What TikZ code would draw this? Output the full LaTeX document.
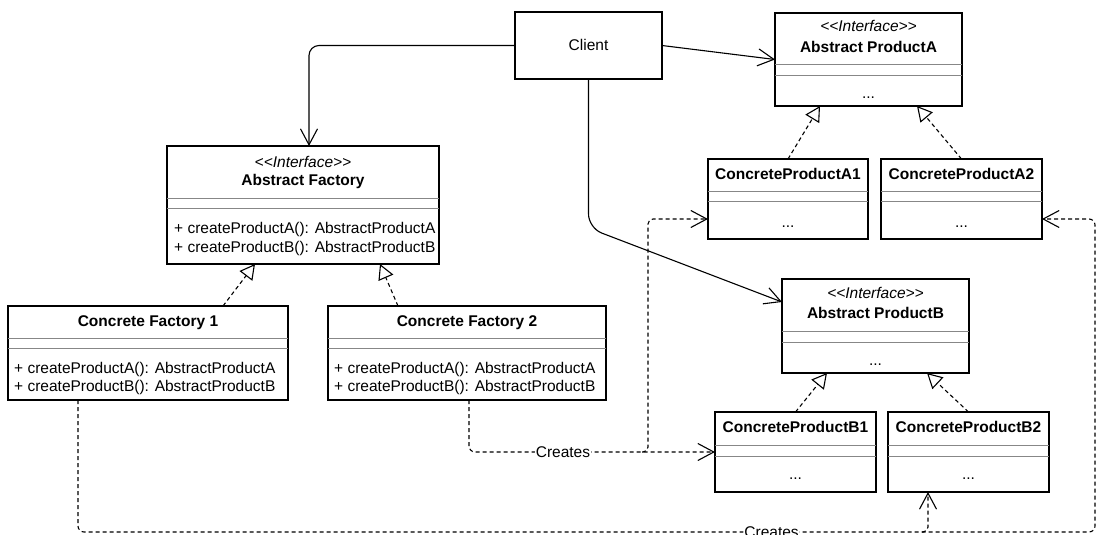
\documentclass[tikz,border=0pt]{standalone}
\usepackage{fontspec}
\setmainfont{Liberation Sans}
\usetikzlibrary{arrows.meta,calc}

\definecolor{sepgray}{RGB}{135,135,135}

\tikzset{
  classbox/.style={draw=black, line width=1.4pt, fill=white, inner sep=0pt, outer sep=0pt},
  sepline/.style={draw=sepgray, line width=0.9pt},
  txt/.style={inner sep=0pt, text height=11pt, text depth=0pt, text=black,
    font=\fontsize{15.5}{18}\selectfont},
  titletext/.style={txt, font=\fontsize{15.5}{18}\selectfont\bfseries},
  stereotext/.style={txt, font=\fontsize{15.5}{18}\selectfont\itshape},
  methodtext/.style={txt, anchor=west},
  dotstext/.style={inner sep=0pt, font=\fontsize{15.5}{18}\selectfont},
  openvee/.tip={Straight Barb[length=16pt, width=17pt, line width=1.1pt]},
  assoc/.style={draw=black, line width=1.1pt, -openvee},
  realize/.style={draw=black, line width=1.1pt, dash pattern=on 4pt off 3pt,
    -{Triangle[length=15pt, width=16pt, fill=white, line width=1.1pt]}},
  depend/.style={draw=black, line width=1.1pt, dash pattern=on 4pt off 3pt,
    rounded corners=6pt, -openvee},
  deplabel/.style={txt, fill=white, inner xsep=1pt},
}

% class box with north-west corner (#2,#3) and south-east corner (#4,#5)
\newcommand\umlbox[5]{%
  \node[classbox, anchor=north west,
        minimum width={(#4-#2)*1pt}, minimum height={(#5-#3)*1pt}] (#1) at (#2,#3) {};}
% compartment separator from x=#1 to x=#2 at height #3
\newcommand\compsep[3]{\draw[sepline] (#1,#3) -- (#2,#3);}

\begin{document}
\begin{tikzpicture}[x=1pt, y=-1pt]
\useasboundingbox[fill=white] (0,0) rectangle (1097,535);

% ---------- Client ----------
\node[classbox, txt, anchor=north west,
      minimum width=147pt, minimum height=67pt] (client) at (515,12) {Client};

% ---------- Abstract ProductA ----------
\umlbox{apa}{775}{13}{962}{106}
\compsep{775}{962}{64}
\compsep{775}{962}{75}
\node[stereotext] (apaS) at (868.5,26) {<{}<Interface>{}>};
\node[titletext] (apaT) at (868.5,47) {Abstract ProductA};
\node[dotstext] (apaD) at (868.5,98) {...};

% ---------- ConcreteProductA1 / A2 ----------
\umlbox{cpa1}{708}{159}{868}{239}
\compsep{708}{868}{191}
\compsep{708}{868}{201}
\node[titletext] (cpa1T) at (788,174) {ConcreteProductA1};
\node[dotstext] (cpa1D) at (788,227) {...};

\umlbox{cpa2}{881}{159}{1042}{239}
\compsep{881}{1042}{191}
\compsep{881}{1042}{201}
\node[titletext] (cpa2T) at (961.5,174) {ConcreteProductA2};
\node[dotstext] (cpa2D) at (961.5,227) {...};

% ---------- Abstract Factory ----------
\umlbox{af}{167}{146}{439}{264}
\compsep{167}{439}{198}
\compsep{167}{439}{208}
\node[stereotext] (afS) at (303,162) {<{}<Interface>{}>};
\node[titletext] (afT) at (303,180) {Abstract Factory};
\node[methodtext] (afM1) at (174,228) {+ createProductA(): AbstractProductA};
\node[methodtext] (afM2) at (174,247) {+ createProductB(): AbstractProductB};

% ---------- Concrete Factory 1 / 2 ----------
\umlbox{cf1}{8}{306}{288}{400}
\compsep{8}{288}{338}
\compsep{8}{288}{348}
\node[titletext] (cf1T) at (148,321) {Concrete Factory 1};
\node[methodtext] (cf1M1) at (14,368) {+ createProductA(): AbstractProductA};
\node[methodtext] (cf1M2) at (14,386) {+ createProductB(): AbstractProductB};

\umlbox{cf2}{328}{306}{606}{400}
\compsep{328}{606}{338}
\compsep{328}{606}{348}
\node[titletext] (cf2T) at (467,321) {Concrete Factory 2};
\node[methodtext] (cf2M1) at (334,368) {+ createProductA(): AbstractProductA};
\node[methodtext] (cf2M2) at (334,386) {+ createProductB(): AbstractProductB};

% ---------- Abstract ProductB ----------
\umlbox{apb}{782}{279}{969}{373}
\compsep{782}{969}{331}
\compsep{782}{969}{342}
\node[stereotext] (apbS) at (875.5,293) {<{}<Interface>{}>};
\node[titletext] (apbT) at (875.5,313) {Abstract ProductB};
\node[dotstext] (apbD) at (875.5,365) {...};

% ---------- ConcreteProductB1 / B2 ----------
\umlbox{cpb1}{715}{412}{876}{492}
\compsep{715}{876}{445}
\compsep{715}{876}{456}
\node[titletext] (cpb1T) at (795.5,427) {ConcreteProductB1};
\node[dotstext] (cpb1D) at (795.5,479) {...};

\umlbox{cpb2}{888}{412}{1049}{492}
\compsep{888}{1049}{445}
\compsep{888}{1049}{456}
\node[titletext] (cpb2T) at (968.5,427) {ConcreteProductB2};
\node[dotstext] (cpb2D) at (968.5,479) {...};

% ---------- connector end points ----------
\coordinate (afIn)   at (309,146);
\coordinate (cBend)  at (588.5,228);
\coordinate (apbIn)  at (782,302);
\coordinate (apaTipL) at (820,106);
\coordinate (apaTipR) at (917,106);
\coordinate (apbTipL) at (827,373);
\coordinate (apbTipR) at (927,373);
\coordinate (afTipL) at (255,264);
\coordinate (afTipR) at (380,264);
\coordinate (cf1Top) at (223,306);
\coordinate (cf2Top) at (398,306);
\coordinate (cf1Out) at (78,400);
\coordinate (cf1Low) at (78,532);
\coordinate (rEdgeLow) at (1095,532);
\coordinate (rEdgeUp) at (1095,219);
\coordinate (cpa2In) at (1042,219);
\coordinate (b2Fork) at (922,532);
\coordinate (b2Turn) at (928,532);
\coordinate (cpb2In) at (928,492);
\coordinate (cf2Out) at (469,400);
\coordinate (cf2Low) at (469,452);
\coordinate (a1Fork) at (642,452);
\coordinate (a1Turn) at (648,452);
\coordinate (a1Up)   at (648,219);
\coordinate (cpa1In) at (708,219);

% ---------- associations from Client ----------
\draw[assoc, rounded corners=10pt] (client.west) -| (afIn);
\draw[assoc] (client.east) -- (apa.west);
\draw[assoc, rounded corners=14pt] (client.south) -- (cBend) -- (apbIn);

% ---------- realizations ----------
\draw[realize] (cpa1.north) -- (apaTipL);
\draw[realize] (cpa2.north) -- (apaTipR);
\draw[realize] (cpb1.north) -- (apbTipL);
\draw[realize] (cpb2.north) -- (apbTipR);
\draw[realize] (cf1Top) -- (afTipL);
\draw[realize] (cf2Top) -- (afTipR);

% ---------- "Creates" dependencies ----------
\draw[depend] (cf2Out) -- (cf2Low)
  -- node[deplabel, pos=0.382] (lblA) {Creates} (cpb1.west);
\draw[depend, rounded corners=5pt] (a1Fork) -- (a1Turn) -- (a1Up) -- (cpa1In);

\draw[depend] (cf1Out) -- (cf1Low)
  -- node[deplabel, pos=0.682] (lblB) {Creates} (rEdgeLow) -- (rEdgeUp) -- (cpa2In);
\draw[depend, rounded corners=5pt] (b2Fork) -- (b2Turn) -- (cpb2In);

\end{tikzpicture}
\end{document}
